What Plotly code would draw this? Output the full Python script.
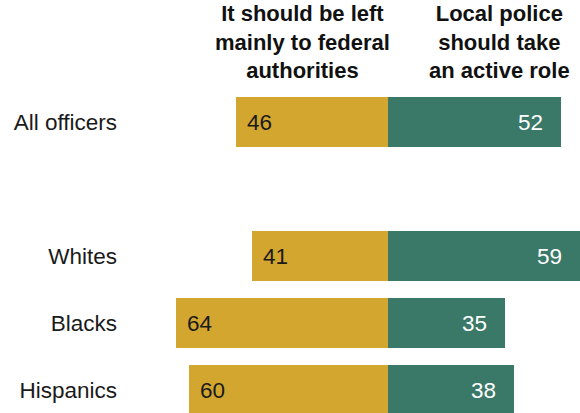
import plotly.graph_objects as go

groups = ["All officers", "Whites", "Blacks", "Hispanics"]
group_pos = [0, 2, 3, 4]
federal = [46, 41, 64, 60]
local = [52, 59, 35, 38]
header_federal = "It should be left<br>mainly to federal<br>authorities"
header_local = "Local police<br>should take<br>an active role"

GOLD = "#D3A62F"
GREEN = "#3A7867"
FONT = "Liberation Sans"

W, H = 580, 413
left_margin = 130
center_px = 388.3
px_per_unit = 3.32
x_min = (left_margin - center_px) / px_per_unit
x_max = (W - center_px) / px_per_unit
row_top_px = 122
row_pitch = 67
y_top = -row_top_px / row_pitch
y_bot = (H - row_top_px) / row_pitch

fig = go.Figure()
fig.add_trace(go.Bar(
    y=group_pos, x=[-v for v in federal], orientation="h",
    marker=dict(color=GOLD, line=dict(width=0)), width=0.76,
    hoverinfo="skip", showlegend=False,
))
fig.add_trace(go.Bar(
    y=group_pos, x=local, orientation="h",
    marker=dict(color=GREEN, line=dict(width=0)), width=0.76,
    hoverinfo="skip", showlegend=False,
))

annotations = []
for yp, v in zip(group_pos, federal):
    annotations.append(dict(
        x=-v, y=yp, xref="x", yref="y", text=str(v), showarrow=False,
        xanchor="left", xshift=9, yanchor="middle",
        font=dict(family=FONT, size=22.5, color="#1a1a1a"),
    ))
for yp, v in zip(group_pos, local):
    annotations.append(dict(
        x=min(v, x_max), y=yp, xref="x", yref="y", text=str(v), showarrow=False,
        xanchor="right", xshift=-16, yanchor="middle",
        font=dict(family=FONT, size=22.5, color="white"),
    ))
annotations.append(dict(
    x=(302 - left_margin) / (W - left_margin), y=1, xref="paper", yref="paper",
    text=f"<b>{header_federal}</b>", showarrow=False, xanchor="center", yanchor="top",
    yshift=1, font=dict(family=FONT, size=22, color="#111"), align="center",
))
annotations.append(dict(
    x=(499 - left_margin) / (W - left_margin), y=1, xref="paper", yref="paper",
    text=f"<b>{header_local}</b>", showarrow=False, xanchor="center", yanchor="top",
    yshift=1, font=dict(family=FONT, size=22, color="#111"), align="center",
))

fig.update_layout(
    width=W, height=H,
    margin=dict(l=left_margin, r=0, t=0, b=0),
    paper_bgcolor="white", plot_bgcolor="white",
    barmode="relative", bargap=0,
    annotations=annotations,
    xaxis=dict(range=[x_min, x_max], visible=False, fixedrange=True),
    yaxis=dict(
        range=[y_bot, y_top], tickvals=group_pos, ticktext=groups,
        showgrid=False, zeroline=False, showline=False, ticks="",
        ticklabelstandoff=12,
        tickfont=dict(family=FONT, size=22.5, color="#1a1a1a"), fixedrange=True,
    ),
)

fig.write_html(
    "out.html",
    config={"displayModeBar": False},
    post_script="document.body.style.margin='0';document.body.style.overflow='hidden';",
)
